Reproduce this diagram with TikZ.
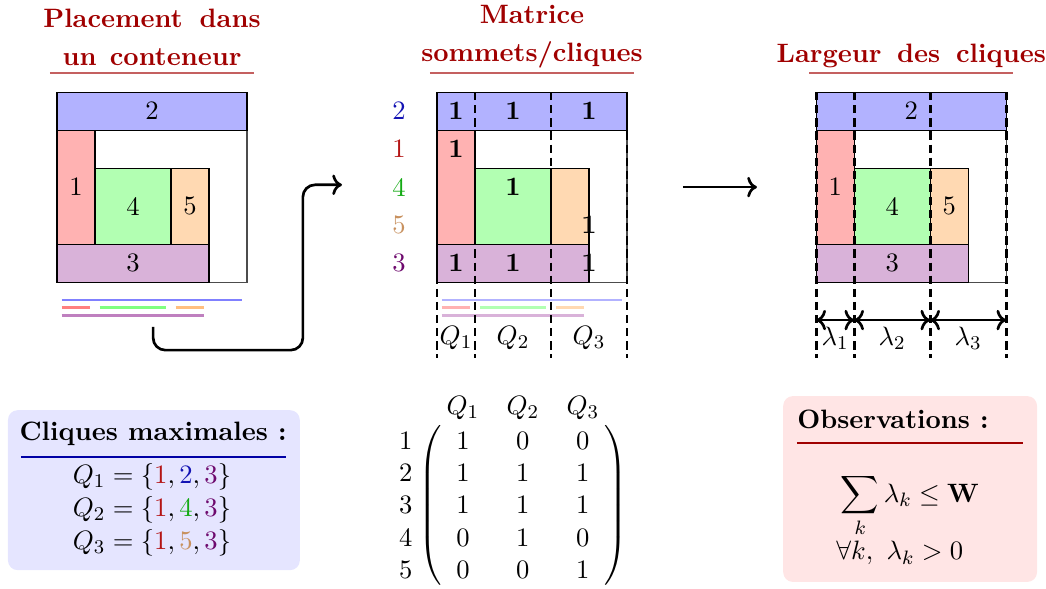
\documentclass[tikz,border=0pt,11pt]{standalone}
\usepackage{amsmath}
\usepackage{amssymb}
\usetikzlibrary{arrows.meta,positioning,matrix}

\definecolor{rougetitre}{RGB}{160,0,0}
\definecolor{rougefilet}{RGB}{196,96,96}
\definecolor{bleufilet}{RGB}{0,0,165}
\definecolor{coulun}{RGB}{180,20,20}
\definecolor{couldeux}{RGB}{20,20,180}
\definecolor{coultrois}{RGB}{110,10,110}
\definecolor{coulquatre}{RGB}{20,170,20}
\definecolor{coulcinq}{RGB}{200,145,95}

\tikzset{
  objet/.style={draw=black, line width=0.5pt},
  boite/.style={draw=black!70, line width=0.5pt},
  titre/.style={font=\bfseries, text=rougetitre, align=center, inner sep=0pt},
  filet/.style={draw=rougefilet, line width=0.6pt},
  projection/.style={line width=1.2pt},
  separation/.style={draw=black, line width=1.1pt, dash pattern=on 3.4pt off 2pt},
  fleche/.style={draw=black, line width=1.1pt, ->},
  cadre/.style={rounded corners=4pt},
}

\newcommand{\conteneur}{%
  \draw[boite] (0,0) rectangle (5,5);
  \draw[objet, fill=blue!30]   (0,4) rectangle (5,5);
  \draw[objet, fill=red!30]    (0,1) rectangle (1,4);
  \draw[objet, fill=green!30]  (1,1) rectangle (3,3);
  \draw[objet, fill=orange!30] (3,1) rectangle (4,3);
  \draw[objet, fill=violet!30] (0,0) rectangle (4,1);
}
\newcommand{\projections}[1]{%
  \draw[projection, blue!#1]   (0.12,-0.47) -- (4.88,-0.47);
  \draw[projection, red!#1]    (0.12,-0.67) -- (0.88,-0.67);
  \draw[projection, green!#1]  (1.12,-0.67) -- (2.88,-0.67);
  \draw[projection, orange!#1] (3.12,-0.67) -- (3.88,-0.67);
  \draw[projection, violet!#1] (0.12,-0.87) -- (3.88,-0.87);
}
\newcommand{\coupes}{%
  \foreach \x in {0,1,3,5}
    \draw[separation] (\x,5) -- (\x,-2);
}

\begin{document}
\begin{tikzpicture}[x=0.55cm, y=0.55cm]
  \useasboundingbox (0,0) rectangle (27.526,15.474);

  \node[titre] (titreplacement) at (4,14.5) {Placement\hspace{7pt}dans\\[2pt]un\hspace{5.5pt}conteneur};
  \node[titre] (titrematrice) at (14,14.5) {Matrice\\[2pt]sommets/cliques};
  \node[titre, anchor=base] (titrelargeur) at (23.98,13.82) {Largeur\hspace{6.5pt}des\hspace{6.5pt}cliques};
  \foreach \cx in {4,14,23.98}
    \draw[filet] (\cx-2.69,13.55) -- (\cx+2.69,13.55);

  \begin{scope}[shift={(1.5,8.05)}]
    \conteneur
    \projections{50}
    \node (g2) at (2.5,4.5) {2};
    \node (g1) at (0.5,2.5) {1};
    \node (g4) at (2,2) {4};
    \node (g5) at (3.5,2) {5};
    \node (g3) at (2,0.5) {3};
  \end{scope}

  \begin{scope}[shift={(11.5,8.05)}]
    \conteneur
    \projections{30}
    \foreach \n/\y/\c in {2/4.5/couldeux, 1/3.5/coulun, 4/2.5/coulquatre, 5/1.5/coulcinq, 3/0.5/coultrois}
      \node[text=\c] (l\n) at (-1,\y) {\n};
    \foreach \nom/\x/\y in {a/0.5/4.5, b/2/4.5, c/4/4.5, d/0.5/3.5, e/2/2.5, f/4/1.5, g/0.5/0.5, h/2/0.5, i/4/0.5}
      \node[font=\bfseries] (un\nom) at (\x,\y) {1};
    \coupes
    \node (q1) at (0.5,-1.47) {$Q_1$};
    \node (q2) at (2,-1.47) {$Q_2$};
    \node (q3) at (4,-1.47) {$Q_3$};
  \end{scope}

  \begin{scope}[shift={(21.48,8.05)}]
    \conteneur
    \node (d2) at (2.5,4.5) {2};
    \node (d1) at (0.5,2.5) {1};
    \node (d4) at (2,2) {4};
    \node (d5) at (3.5,2) {5};
    \node (d3) at (2,0.5) {3};
    \coupes
    \coordinate (a0) at (0,-1);
    \coordinate (a1) at (1,-1);
    \coordinate (a3) at (3,-1);
    \coordinate (a5) at (5,-1);
    \draw[fleche, <->] (a0) -- (a1);
    \draw[fleche, <->] (a1) -- (a3);
    \draw[fleche, <->] (a3) -- (a5);
    \node (lam1) at (0.5,-1.47) {$\lambda_1$};
    \node (lam2) at (2,-1.47) {$\lambda_2$};
    \node (lam3) at (4,-1.47) {$\lambda_3$};
  \end{scope}

  \coordinate (depart) at (4.03,6.87);
  \coordinate (coude) at (7.97,6.26);
  \coordinate (arrivee) at (9.0,10.61);
  \draw[fleche, rounded corners=5pt] (depart) |- (coude) |- (arrivee);
  \coordinate (gauche) at (17.97,10.55);
  \coordinate (droite) at (19.92,10.55);
  \draw[fleche] (gauche) -- (droite);

  \fill[blue!10, cadre] (0.21,0.47) rectangle (7.89,4.68);
  \node[anchor=base, font=\bfseries, inner sep=0pt] (cliques) at (4.03,3.87) {Cliques maximales~:};
  \draw[bleufilet, line width=0.8pt] (0.55,3.45) -- (7.53,3.45);
  \node[align=center] (ensembles) at (4.0,2.05) {%
    $Q_1 = \{{\color{coulun}1}, {\color{couldeux}2}, {\color{coultrois}3}\}$\\
    $Q_2 = \{{\color{coulun}1}, {\color{coulquatre}4}, {\color{coultrois}3}\}$\\
    $Q_3 = \{{\color{coulun}1}, {\color{coulcinq}5}, {\color{coultrois}3}\}$};

  \matrix[matrix of math nodes, left delimiter=(, right delimiter=),
    row sep={13.3pt,between origins}, column sep={24.7pt,between origins},
    nodes={inner sep=1pt}] (M) at (13.76,2.18) {
    1 & 0 & 0 \\
    1 & 1 & 1 \\
    1 & 1 & 1 \\
    0 & 1 & 0 \\
    0 & 0 & 1 \\
  };
  \coordinate (lignes) at (10.68,0);
  \coordinate (entetes) at (0,4.74);
  \foreach \i in {1,...,5}
    \node (r\i) at (lignes |- M-\i-1) {$\i$};
  \foreach \j in {1,2,3}
    \node (c\j) at (M-1-\j |- entetes) {$Q_\j$};

  \fill[red!10, cadre] (20.61,0.16) rectangle (27.29,5.05);
  \node[anchor=base west, font=\bfseries, inner sep=0pt] (obs) at (20.97,4.21) {Observations~:};
  \draw[rougetitre, line width=0.8pt] (20.97,3.82) -- (26.92,3.82);
  \node[anchor=base] (somme) at (23.95,2.26) {$\displaystyle\sum_k \lambda_k \le \mathbf{W}$};
  \node[anchor=base] (positif) at (23.68,0.74) {$\forall k,\ \lambda_k > 0$};
\end{tikzpicture}
\end{document}
